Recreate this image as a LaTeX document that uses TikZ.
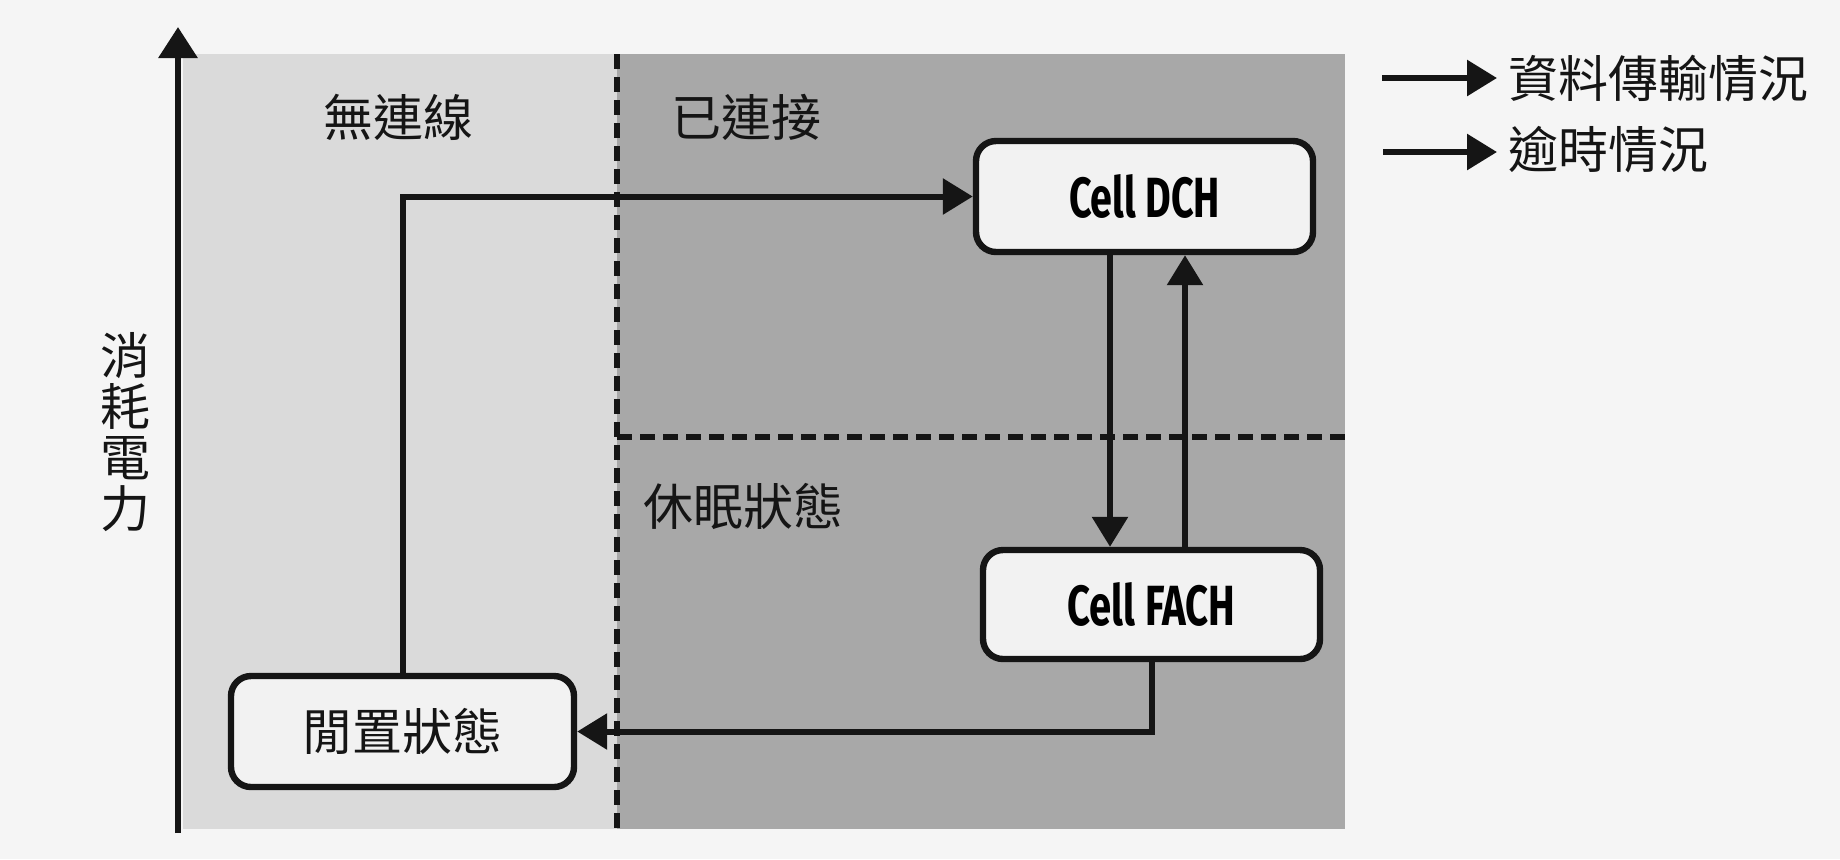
\documentclass[tikz,border=0pt]{standalone}
\usepackage{fontspec}
\newfontfamily\cjk{Noto Sans CJK TC}
\newfontfamily\cellfont{Fira Sans}
\usetikzlibrary{arrows.meta}
\definecolor{bgc}{HTML}{F5F5F5}
\definecolor{lightg}{HTML}{DADADA}
\definecolor{darkg}{HTML}{A8A8A8}
\definecolor{boxfill}{HTML}{F2F2F2}
\definecolor{ink}{HTML}{151515}
\begin{document}
\begin{tikzpicture}[x=0.5pt,y=-0.5pt,
  statebox/.style={draw=ink, line width=3.2pt, fill=boxfill, rounded corners=10pt, inner sep=0pt},
  conn/.style={draw=ink, line width=3pt, -{Triangle[length=15pt,width=17.5pt]}},
  cjklabel/.style={font=\cjk\fontsize{25pt}{25.5pt}\selectfont, text=ink, inner sep=0pt},
  divider/.style={draw=ink, line width=2.8pt, dash pattern=on 7.5pt off 4pt}]
\useasboundingbox (0,0) rectangle (1840,859);
\fill[bgc] (0,0) rectangle (1840,859);
% regions
\fill[lightg] (183,54) rectangle (617,829);
\fill[darkg] (617,54) rectangle (1345,829);
\coordinate (vtop) at (617,54);
\coordinate (vbot) at (617,830);
\coordinate (hleft) at (617,437);
\coordinate (hright) at (1345,437);
\draw[divider] (vtop) -- (vbot);
\draw[divider] (hleft) -- (hright);
% axis
\coordinate (axisbot) at (178,833);
\coordinate (axistop) at (178,27);
\draw[ink, line width=3.2pt, -{Triangle[length=15.5pt,width=19pt]}] (axisbot) -- (axistop);
\node[cjklabel, align=center] (ylabel) at (125,432) {消\\耗\\電\\力};
% region labels
\node[cjklabel] (noconn) at (398,117) {無連線};
\node[cjklabel] (conn) at (746,117) {已連接};
\node[cjklabel] (dormant) at (743,506) {休眠狀態};
% states
\node[statebox, minimum width=168.5pt, minimum height=55.5pt] (dch) at (1144.5,196.5)
  {\resizebox{75.5pt}{21.5pt}{\cellfont\bfseries Cell DCH}};
\node[statebox, minimum width=168.5pt, minimum height=54.5pt] (fach) at (1151.5,604.5)
  {\resizebox{84pt}{21.5pt}{\cellfont\bfseries Cell FACH}};
\node[statebox, minimum width=171.5pt, minimum height=55.5pt] (idle) at (402.5,731.5)
  {\cjk\fontsize{25pt}{30pt}\selectfont\color{ink}閒置狀態};
% connectors
\coordinate (xdown) at (1110,0);
\coordinate (xup) at (1185,0);
\draw[conn] (idle.north) |- (dch.west);
\draw[conn] (dch.south -| xdown) -- (fach.north -| xdown);
\draw[conn] (fach.north -| xup) -- (dch.south -| xup);
\draw[conn] (fach.south) |- (idle.east);
% legend
\coordinate (l1s) at (1382,78);
\coordinate (l1e) at (1497,78);
\coordinate (l2s) at (1383,152);
\coordinate (l2e) at (1497,152);
\draw[conn] (l1s) -- (l1e);
\draw[conn] (l2s) -- (l2e);
\node[cjklabel, anchor=west] (leg1) at (1508,79) {資料傳輸情況};
\node[cjklabel, anchor=west] (leg2) at (1508,150) {逾時情況};
\end{tikzpicture}
\end{document}
